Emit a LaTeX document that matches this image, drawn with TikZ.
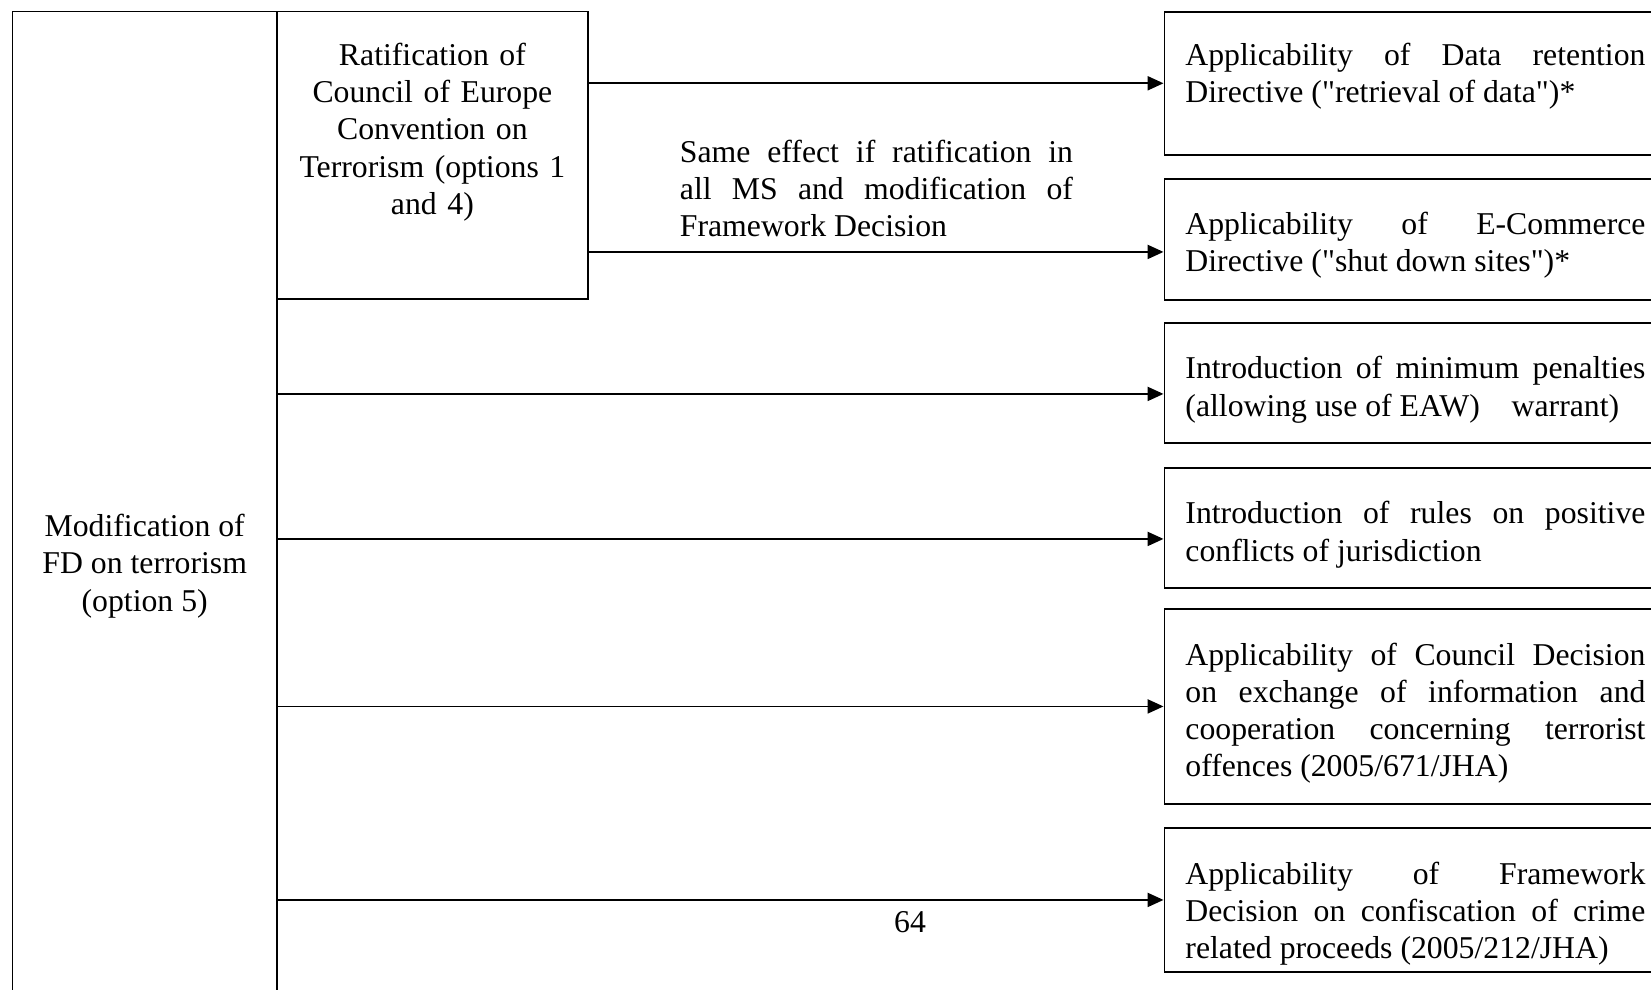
\documentclass[tikz,border=0pt]{standalone}
\usepackage{fontspec}
\setmainfont{Liberation Serif}[Ligatures=TeXOff]
\usepackage{tikz}
\usetikzlibrary{arrows.meta}
\usetikzlibrary{calc}

\newdimen\px
\px=0.378pt
\hyphenpenalty=10000
\tolerance=10000

\begin{document}
\begin{tikzpicture}[x=0.378pt, y=-0.378pt, line width=0.7pt,
        font=\fontsize{12pt}{14.1pt}\selectfont,
        box_style/.style={draw=black, rectangle, inner sep=0pt, anchor=north west},
        effect_style/.style={box_style, text width=173.9pt, inner xsep=21*\px, align=justify},
        note_style/.style={fill=white, text width=148.6pt, inner xsep=21*\px, inner ysep=5pt, align=justify, anchor=south west},
        edge_style/.style={draw=black, line width=0.7pt, -{Triangle[length=6pt,width=5.3pt]}},
        text_drop/.style={execute at begin node={\rule{0pt}{\dimexpr8.3pt+#1\px*2\relax}}},
        text_lift/.style={execute at end node={\rule[-\dimexpr2.6pt+#1\px*2\relax]{0pt}{\dimexpr2.6pt+#1\px*2\relax}}}]

        \useasboundingbox (0,0) rectangle (1651,990);
        \clip (0,0) rectangle (1651,990);

        \node [box_style, align=center, minimum width=264.5*\px, minimum height=1109.5*\px] (modif) at (11.5,10.5) {Modification of\\FD on terrorism\\(option 5)};

        \node [box_style, align=center, text width=109.6pt, minimum width=311*\px, minimum height=287.5*\px, text_lift=23] (ratif) at (276,10.5) {Ratification of\\Council of Europe\\Convention on\\Terrorism (options 1\\and 4)};

        \node [effect_style, minimum height=143.3*\px, text_lift=7] (data) at (1163.5,10.7) {Applicability of Data retention\linebreak Directive ("retrieval of data")*};

        \node [effect_style, minimum height=121*\px, text_drop=6] (ecom) at (1163.5,178) {Applicability of E-Commerce\linebreak Directive ("shut down sites")*};

        \node [effect_style, minimum height=120*\px, text_drop=7] (penal) at (1163.5,322) {Introduction of minimum penalties\linebreak (allowing use of EAW) \ \ \ warrant)};

        \node [effect_style, minimum height=120*\px, text_drop=7] (juris) at (1163.5,467) {Introduction of rules on positive\linebreak conflicts of jurisdiction};

        \node [effect_style, minimum height=195*\px, text_drop=7] (info) at (1163.5,608) {Applicability of Council Decision\linebreak on exchange of information and\linebreak cooperation concerning terrorist\linebreak offences (2005/671/JHA)};

        \node [effect_style, minimum height=144*\px, text_drop=14] (confis) at (1163.5,827) {Applicability of Framework\linebreak Decision on confiscation of crime\linebreak related proceeds (2005/212/JHA)};

        \coordinate (ecom in) at ($(ecom.west)+(0,12.5)$);
        \coordinate (penal in) at ($(penal.west)+(0,11)$);
        \coordinate (juris in) at ($(juris.west)+(0,11)$);

        \draw [edge_style] (ratif.east |- data.west) -- (data.west);

        \draw [edge_style] (ratif.east |- ecom in) -- (ecom in);

        \draw [edge_style] (modif.east |- penal in) -- (penal in);

        \draw [edge_style] (modif.east |- juris in) -- (juris in);

        \draw [edge_style] (modif.east |- info.west) -- (info.west);

        \draw [edge_style] (modif.east |- confis.west) -- (confis.west);

        \node [note_style] (same) at (658,251.4) {Same effect if ratification in\linebreak all MS and modification of\linebreak Framework Decision};

        \node (pagenum) at (910,922) {64};

        \end{tikzpicture}
\end{document}
